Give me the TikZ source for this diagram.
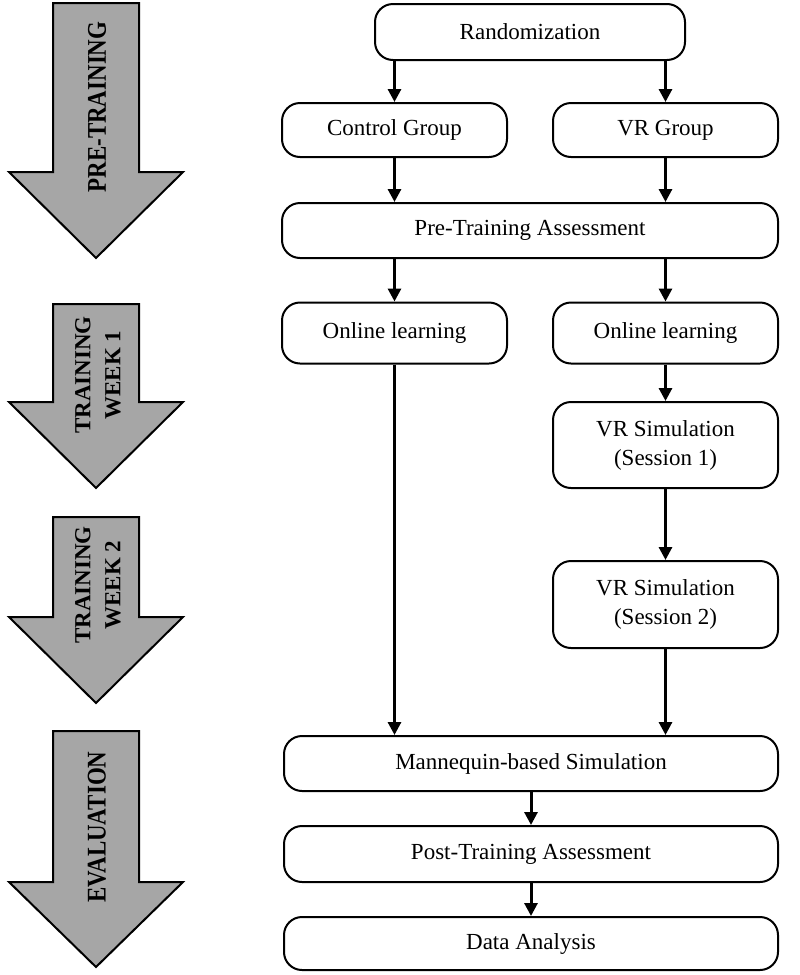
\documentclass[tikz,border=0pt]{standalone}
\usepackage{fontspec}
\setmainfont{Liberation Serif}
\usepackage{graphicx}
\usetikzlibrary{arrows.meta,positioning}

\begin{document}
\begin{tikzpicture}[
  x=1pt, y=-1pt,
  font=\fontsize{23}{29}\selectfont,
  box/.style={draw, line width=2pt, rounded corners=18pt, fill=white, align=center, inner sep=3pt},
  half/.style={box, minimum width=225pt},
  full/.style={box, minimum width=494pt, minimum height=55pt},
  arr/.style={-{Triangle[length=13pt, width=13pt]}, line width=3pt},
  phase/.style={draw, line width=2pt, fill=black!35, line join=miter},
  phaselbl/.style={rotate=90, align=center, inner sep=0pt, font=\fontsize{23}{30}\selectfont\bfseries}
]
\useasboundingbox (0,0) rectangle (800,975);

% phases on the left
\draw[phase] (53,3) -- (139,3) -- (139,172) -- (183,172) -- (96,258) -- (9,172) -- (53,172) -- cycle;
\draw[phase] (53,304) -- (139,304) -- (139,402) -- (183,402) -- (96,488) -- (9,402) -- (53,402) -- cycle;
\draw[phase] (53,517) -- (139,517) -- (139,617) -- (183,617) -- (96,703) -- (9,617) -- (53,617) -- cycle;
\draw[phase] (53,731) -- (139,731) -- (139,882) -- (183,882) -- (96,967) -- (9,882) -- (53,882) -- cycle;
\node[phaselbl] (pretr) at (97,107) {\scalebox{0.85}[1]{\fontsize{27}{30}\selectfont PRE-TRAINING}};
\node[phaselbl] (week1) at (98,375) {TRAINING\\WEEK 1};
\node[phaselbl] (week2) at (98,585) {TRAINING\\WEEK 2};
\node[phaselbl] (eval) at (97,827) {\scalebox{0.85}[1]{\fontsize{27}{30}\selectfont EVALUATION}};

% flow
\node[box, minimum width=310pt, minimum height=56pt] (rand) at (530,32) {Randomization};
\node[half, minimum height=54pt] (ctrl) at (394.5,130) {Control Group};
\node[half, minimum height=54pt] (vrg) at (665.5,130) {VR Group};
\node[box, minimum width=496pt, minimum height=55pt] (pre) at (530,230.5) {Pre-Training Assessment};
\node[half, minimum height=61pt] (onlc) at (394.5,333) {Online learning};
\node[half, minimum height=61pt] (onlv) at (665.5,333) {Online learning};
\node[half, minimum height=86pt] (sim1) at (665.5,445) {VR Simulation\\(Session 1)};
\node[half, minimum height=87pt] (sim2) at (665.5,604.5) {VR Simulation\\(Session 2)};
\node[full] (mann) at (531,763.5) {Mannequin-based Simulation};
\node[full, minimum height=56pt] (post) at (531,854) {Post-Training Assessment};
\node[full, minimum height=53pt] (data) at (531,943.5) {Data Analysis};

\draw[arr] (rand.south -| ctrl) -- (ctrl.north);
\draw[arr] (rand.south -| vrg) -- (vrg.north);
\draw[arr] (ctrl.south) -- (ctrl.south |- pre.north);
\draw[arr] (vrg.south) -- (vrg.south |- pre.north);
\draw[arr] (pre.south -| onlc) -- (onlc.north);
\draw[arr] (pre.south -| onlv) -- (onlv.north);
\draw[arr] (onlv) -- (sim1);
\draw[arr] (sim1) -- (sim2);
\draw[arr] (onlc.south) -- (onlc.south |- mann.north);
\draw[arr] (sim2.south) -- (sim2.south |- mann.north);
\draw[arr] (mann) -- (post);
\draw[arr] (post) -- (data);
\end{tikzpicture}
\end{document}
